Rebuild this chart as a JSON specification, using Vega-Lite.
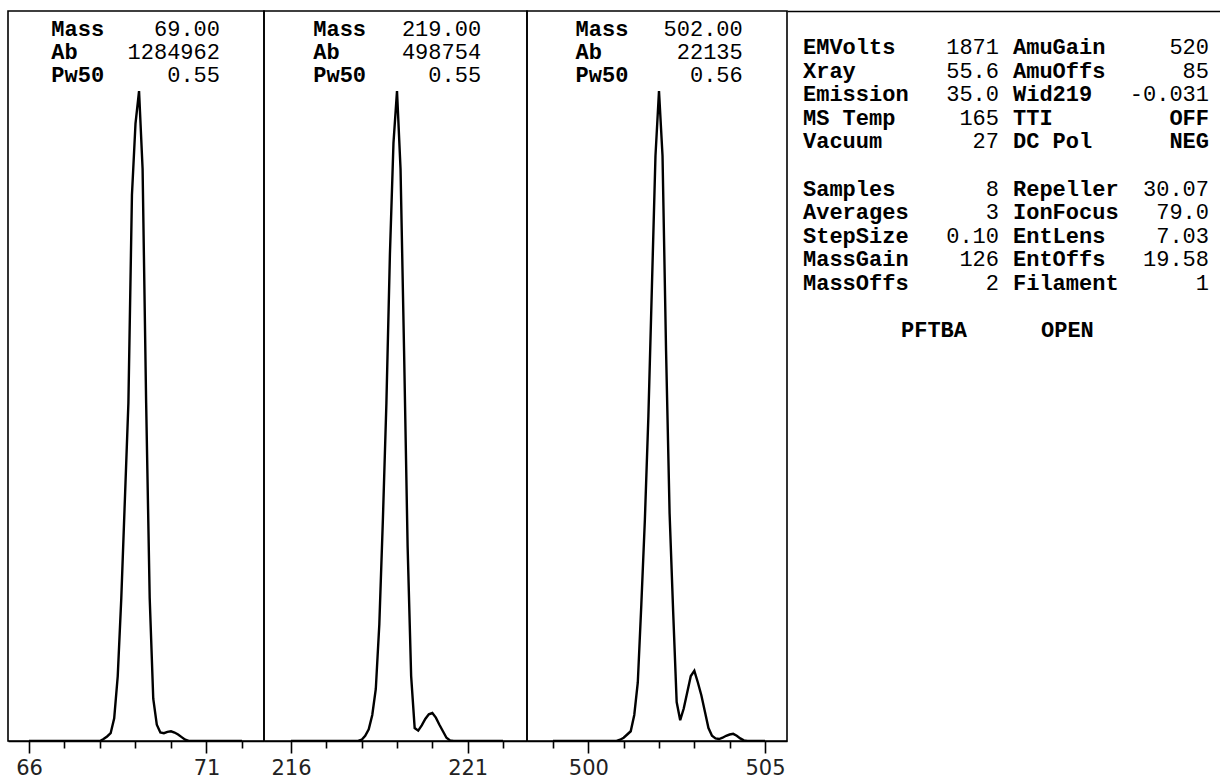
{
  "$schema": "https://vega.github.io/schema/vega-lite/v6.json",
  "padding": {"left": 7, "top": 10, "right": 0, "bottom": 0},
  "spacing": 0,
  "bounds": "flush",
  "background": "white",
  "config": {
    "view": {"stroke": "black", "strokeWidth": 1.6},
    "concat": {"spacing": 0},
    "axis": {"domainColor": "black", "domainWidth": 1.6, "tickColor": "black", "tickWidth": 1.6, "labelColor": "#222222", "labelFont": "DejaVu Sans", "labelFontSize": 21, "grid": false, "title": null, "labelPadding": 4},
    "text": {"font": "Liberation Mono", "fontSize": 22, "color": "black"}
  },
  "datasets": {
    "p1": [
      {"m":66.0,"i":0},{"m":66.1,"i":0},{"m":66.2,"i":0},{"m":66.3,"i":0},{"m":66.4,"i":0},{"m":66.5,"i":0},{"m":66.6,"i":0},{"m":66.7,"i":0},{"m":66.8,"i":0},{"m":66.9,"i":0},
      {"m":67.0,"i":0},{"m":67.1,"i":0},{"m":67.2,"i":0},{"m":67.3,"i":0},{"m":67.4,"i":0},{"m":67.5,"i":0},{"m":67.6,"i":0},{"m":67.7,"i":0},{"m":67.8,"i":0},{"m":67.9,"i":0},
      {"m":68.0,"i":0},{"m":68.1,"i":0.3},{"m":68.2,"i":0.7},{"m":68.3,"i":1.2},{"m":68.4,"i":3.5},{"m":68.5,"i":10},{"m":68.6,"i":22},{"m":68.7,"i":37},{"m":68.8,"i":52},{"m":68.9,"i":84},
      {"m":69.0,"i":95},{"m":69.1,"i":100},{"m":69.2,"i":88},{"m":69.3,"i":52},{"m":69.4,"i":22},{"m":69.5,"i":6.5},{"m":69.6,"i":2.5},{"m":69.7,"i":1.3},{"m":69.8,"i":1.2},{"m":69.9,"i":1.4},
      {"m":70.0,"i":1.5},{"m":70.1,"i":1.3},{"m":70.2,"i":1.0},{"m":70.3,"i":0.6},{"m":70.4,"i":0.2},{"m":70.5,"i":0},{"m":70.6,"i":0},{"m":70.7,"i":0},{"m":70.8,"i":0},{"m":70.9,"i":0},
      {"m":71.0,"i":0},{"m":71.1,"i":0},{"m":71.2,"i":0},{"m":71.3,"i":0},{"m":71.4,"i":0},{"m":71.5,"i":0},{"m":71.6,"i":0},{"m":71.7,"i":0},{"m":71.8,"i":0},{"m":71.9,"i":0},{"m":72.0,"i":0}
    ],
    "p2": [
      {"m":216.0,"i":0},{"m":216.1,"i":0},{"m":216.2,"i":0},{"m":216.3,"i":0},{"m":216.4,"i":0},{"m":216.5,"i":0},{"m":216.6,"i":0},{"m":216.7,"i":0},{"m":216.8,"i":0},{"m":216.9,"i":0},
      {"m":217.0,"i":0},{"m":217.1,"i":0},{"m":217.2,"i":0},{"m":217.3,"i":0},{"m":217.4,"i":0},{"m":217.5,"i":0},{"m":217.6,"i":0},{"m":217.7,"i":0},{"m":217.8,"i":0},{"m":217.9,"i":0},
      {"m":218.0,"i":0.2},{"m":218.1,"i":0.8},{"m":218.2,"i":1.8},{"m":218.3,"i":4},{"m":218.4,"i":8},{"m":218.5,"i":18},{"m":218.6,"i":34},{"m":218.7,"i":52},{"m":218.8,"i":75},{"m":218.9,"i":92},
      {"m":219.0,"i":100},{"m":219.1,"i":88},{"m":219.2,"i":60},{"m":219.3,"i":30},{"m":219.4,"i":10},{"m":219.5,"i":2},{"m":219.6,"i":1.6},{"m":219.7,"i":2.4},{"m":219.8,"i":3.4},{"m":219.9,"i":4.1},
      {"m":220.0,"i":4.3},{"m":220.1,"i":3.6},{"m":220.2,"i":2.5},{"m":220.3,"i":1.5},{"m":220.4,"i":0.5},{"m":220.5,"i":0.1},{"m":220.6,"i":0},{"m":220.7,"i":0},{"m":220.8,"i":0},{"m":220.9,"i":0},
      {"m":221.0,"i":0},{"m":221.1,"i":0},{"m":221.2,"i":0},{"m":221.3,"i":0},{"m":221.4,"i":0},{"m":221.5,"i":0},{"m":221.6,"i":0},{"m":221.7,"i":0},{"m":221.8,"i":0},{"m":221.9,"i":0},{"m":222.0,"i":0}
    ],
    "p3": [
      {"m":499.0,"i":0},{"m":499.1,"i":0},{"m":499.2,"i":0},{"m":499.3,"i":0},{"m":499.4,"i":0},{"m":499.5,"i":0},{"m":499.6,"i":0},{"m":499.7,"i":0},{"m":499.8,"i":0},{"m":499.9,"i":0},
      {"m":500.0,"i":0},{"m":500.1,"i":0},{"m":500.2,"i":0},{"m":500.3,"i":0},{"m":500.4,"i":0},{"m":500.5,"i":0},{"m":500.6,"i":0},{"m":500.7,"i":0},{"m":500.8,"i":0},{"m":500.9,"i":0.2},
      {"m":501.0,"i":0.5},{"m":501.1,"i":1},{"m":501.2,"i":1.5},{"m":501.3,"i":4},{"m":501.4,"i":9},{"m":501.5,"i":21},{"m":501.6,"i":34},{"m":501.7,"i":50},{"m":501.8,"i":70},{"m":501.9,"i":90},
      {"m":502.0,"i":100},{"m":502.1,"i":90},{"m":502.2,"i":60},{"m":502.3,"i":35},{"m":502.4,"i":20},{"m":502.5,"i":6},{"m":502.6,"i":3.2},{"m":502.7,"i":5},{"m":502.8,"i":7.5},{"m":502.9,"i":10},
      {"m":503.0,"i":10.8},{"m":503.1,"i":9},{"m":503.2,"i":7},{"m":503.3,"i":4.5},{"m":503.4,"i":2},{"m":503.5,"i":0.8},{"m":503.6,"i":0.4},{"m":503.7,"i":0.3},{"m":503.8,"i":0.5},{"m":503.9,"i":0.8},
      {"m":504.0,"i":1.0},{"m":504.1,"i":1.1},{"m":504.2,"i":0.8},{"m":504.3,"i":0.4},{"m":504.4,"i":0.1},{"m":504.5,"i":0},{"m":504.6,"i":0},{"m":504.7,"i":0},{"m":504.8,"i":0},{"m":504.9,"i":0},{"m":505.0,"i":0}
    ],
    "t1": [{"row":1,"k":"Mass","v":"69.00"},{"row":2,"k":"Ab","v":"1284962"},{"row":3,"k":"Pw50","v":"0.55"}],
    "t2": [{"row":1,"k":"Mass","v":"219.00"},{"row":2,"k":"Ab","v":"498754"},{"row":3,"k":"Pw50","v":"0.55"}],
    "t3": [{"row":1,"k":"Mass","v":"502.00"},{"row":2,"k":"Ab","v":"22135"},{"row":3,"k":"Pw50","v":"0.56"}],
    "tune": [
      {"row":1,"k1":"EMVolts","v1":"1871","k2":"AmuGain","v2":"520"},
      {"row":2,"k1":"Xray","v1":"55.6","k2":"AmuOffs","v2":"85"},
      {"row":3,"k1":"Emission","v1":"35.0","k2":"Wid219","v2":"-0.031"},
      {"row":4,"k1":"MS Temp","v1":"165","k2":"TTI","v2":"OFF"},
      {"row":5,"k1":"Vacuum","v1":"27","k2":"DC Pol","v2":"NEG"},
      {"row":7,"k1":"Samples","v1":"8","k2":"Repeller","v2":"30.07"},
      {"row":8,"k1":"Averages","v1":"3","k2":"IonFocus","v2":"79.0"},
      {"row":9,"k1":"StepSize","v1":"0.10","k2":"EntLens","v2":"7.03"},
      {"row":10,"k1":"MassGain","v1":"126","k2":"EntOffs","v2":"19.58"},
      {"row":11,"k1":"MassOffs","v1":"2","k2":"Filament","v2":"1"}
    ],
    "status": [{"row":13,"gas":"PFTBA","valve":"OPEN"}]
  },
  "hconcat": [
    {
      "width": 256, "height": 730,
      "resolve": {"scale": {"y": "independent"}},
      "layer": [
        {"data": {"name": "p1"},
         "mark": {"type": "line", "color": "black", "strokeWidth": 2.4, "clip": true},
         "encoding": {
           "x": {"field": "m", "type": "quantitative", "scale": {"domain": [65.4085, 72.6198], "nice": false, "zero": false},
                 "axis": {"values": [66,67,68,69,70,71,72], "format": "d", "labelExpr": "datum.value==66||datum.value==71?datum.label:''",
                          "tickSize": {"condition": {"test": "datum.value==66||datum.value==71", "value": 12}, "value": 7}}},
           "y": {"field": "i", "type": "quantitative", "scale": {"domain": [0, 112.31], "nice": false}, "axis": null}}},
        {"data": {"name": "t1"},
         "mark": {"type": "text", "align": "left", "baseline": "middle", "fontWeight": "bold"},
         "encoding": {"x": {"datum": 66.63}, "y": {"field": "row", "type": "quantitative", "scale": {"domain": [0.252, 31.45], "reverse": true, "nice": false, "zero": false}, "axis": null}, "text": {"field": "k"}}},
        {"data": {"name": "t1"},
         "mark": {"type": "text", "align": "right", "baseline": "middle"},
         "encoding": {"x": {"datum": 71.38}, "y": {"field": "row", "type": "quantitative", "scale": {"domain": [0.252, 31.45], "reverse": true, "nice": false, "zero": false}, "axis": null}, "text": {"field": "v"}}}
      ]
    },
    {
      "width": 263, "height": 730,
      "resolve": {"scale": {"y": "independent"}},
      "layer": [
        {"data": {"name": "p2"},
         "mark": {"type": "line", "color": "black", "strokeWidth": 2.4, "clip": true},
         "encoding": {
           "x": {"field": "m", "type": "quantitative", "scale": {"domain": [215.2358, 222.679], "nice": false, "zero": false},
                 "axis": {"values": [216,217,218,219,220,221,222], "format": "d", "labelExpr": "datum.value==216||datum.value==221?datum.label:''",
                          "tickSize": {"condition": {"test": "datum.value==216||datum.value==221", "value": 12}, "value": 7}}},
           "y": {"field": "i", "type": "quantitative", "scale": {"domain": [0, 112.31], "nice": false}, "axis": null}}},
        {"data": {"name": "t2"},
         "mark": {"type": "text", "align": "left", "baseline": "middle", "fontWeight": "bold"},
         "encoding": {"x": {"datum": 216.63}, "y": {"field": "row", "type": "quantitative", "scale": {"domain": [0.252, 31.45], "reverse": true, "nice": false, "zero": false}, "axis": null}, "text": {"field": "k"}}},
        {"data": {"name": "t2"},
         "mark": {"type": "text", "align": "right", "baseline": "middle"},
         "encoding": {"x": {"datum": 221.38}, "y": {"field": "row", "type": "quantitative", "scale": {"domain": [0.252, 31.45], "reverse": true, "nice": false, "zero": false}, "axis": null}, "text": {"field": "v"}}}
      ]
    },
    {
      "width": 260, "height": 730,
      "resolve": {"scale": {"y": "independent"}},
      "layer": [
        {"data": {"name": "p3"},
         "mark": {"type": "line", "color": "black", "strokeWidth": 2.4, "clip": true},
         "encoding": {
           "x": {"field": "m", "type": "quantitative", "scale": {"domain": [498.2642, 505.6227], "nice": false, "zero": false},
                 "axis": {"values": [499,500,501,502,503,504,505], "format": "d", "labelExpr": "datum.value==500||datum.value==505?datum.label:''",
                          "tickSize": {"condition": {"test": "datum.value==500||datum.value==505", "value": 12}, "value": 7}}},
           "y": {"field": "i", "type": "quantitative", "scale": {"domain": [0, 112.31], "nice": false}, "axis": null}}},
        {"data": {"name": "t3"},
         "mark": {"type": "text", "align": "left", "baseline": "middle", "fontWeight": "bold"},
         "encoding": {"x": {"datum": 499.64}, "y": {"field": "row", "type": "quantitative", "scale": {"domain": [0.252, 31.45], "reverse": true, "nice": false, "zero": false}, "axis": null}, "text": {"field": "k"}}},
        {"data": {"name": "t3"},
         "mark": {"type": "text", "align": "right", "baseline": "middle"},
         "encoding": {"x": {"datum": 504.37}, "y": {"field": "row", "type": "quantitative", "scale": {"domain": [0.252, 31.45], "reverse": true, "nice": false, "zero": false}, "axis": null}, "text": {"field": "v"}}}
      ]
    },
    {
      "width": 434, "height": 730,
      "view": {"stroke": null},
      "data": {"name": "tune"},
      "encoding": {
        "y": {"field": "row", "type": "quantitative", "scale": {"domain": [-0.553, 30.51], "reverse": true, "nice": false, "zero": false}, "axis": null}
      },
      "layer": [
        {"mark": {"type": "text", "align": "left", "baseline": "middle", "fontWeight": "bold"},
         "encoding": {"x": {"datum": 0, "scale": {"domain": [-1.143, 29.857], "nice": false, "zero": false},
                            "axis": {"orient": "top", "ticks": false, "labels": false, "domain": true, "grid": false, "title": null}},
                      "text": {"field": "k1"}}},
        {"mark": {"type": "text", "align": "right", "baseline": "middle"},
         "encoding": {"x": {"datum": 14}, "text": {"field": "v1"}}},
        {"mark": {"type": "text", "align": "left", "baseline": "middle", "fontWeight": "bold"},
         "encoding": {"x": {"datum": 15}, "text": {"field": "k2"}}},
        {"transform": [{"filter": "!test(/[A-Z]/, datum.v2)"}],
         "mark": {"type": "text", "align": "right", "baseline": "middle"},
         "encoding": {"x": {"datum": 29}, "text": {"field": "v2"}}},
        {"transform": [{"filter": "test(/[A-Z]/, datum.v2)"}],
         "mark": {"type": "text", "align": "right", "baseline": "middle", "fontWeight": "bold"},
         "encoding": {"x": {"datum": 29}, "text": {"field": "v2"}}},
        {"data": {"name": "status"},
         "mark": {"type": "text", "align": "left", "baseline": "middle", "fontWeight": "bold"},
         "encoding": {"x": {"datum": 7}, "text": {"field": "gas"}}},
        {"data": {"name": "status"},
         "mark": {"type": "text", "align": "left", "baseline": "middle", "fontWeight": "bold"},
         "encoding": {"x": {"datum": 17}, "text": {"field": "valve"}}}
      ]
    }
  ]
}
